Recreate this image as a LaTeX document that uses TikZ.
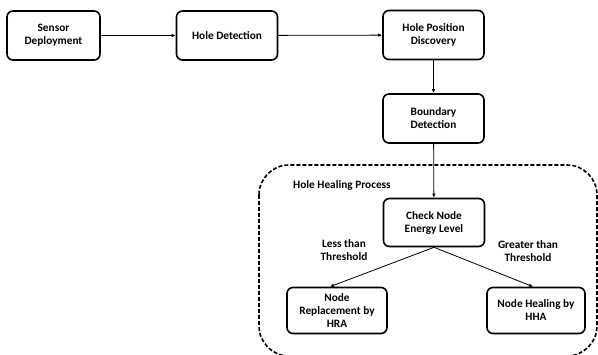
\documentclass[tikz,border=0pt]{standalone}
\usepackage{fontspec}
\setmainfont{Carlito}
\usetikzlibrary{arrows.meta}
\begin{document}
\begin{tikzpicture}[x=1pt,y=-1pt,
  font=\bfseries\fontsize{11.3}{13}\selectfont,
  box/.style={draw, line width=1.6pt, rounded corners=6pt, align=center,
    minimum width=101pt, minimum height=49pt, inner sep=2pt},
  flow/.style={line width=0.8pt, -{Latex[length=4pt,width=3.5pt]}},
  lbl/.style={align=center, inner sep=0pt}]
\useasboundingbox (0,0) rectangle (598,355);
% region holding the healing steps
\draw[line width=1.6pt, dash pattern=on 4pt off 2pt, rounded corners=30pt]
  (259,165) rectangle (597,356);
\node[lbl, anchor=west] (hhp) at (293,185) {Hole Healing Process};
% main chain
\node[box, minimum width=93pt] (sd) at (53.5,35.5) {Sensor\\Deployment};
\node[box] (hd) at (227,35.5) {Hole Detection};
\node[box] (hp) at (433.5,35) {Hole Position\\Discovery};
\node[box] (bd) at (433.5,118.5) {Boundary\\Detection};
\node[box, minimum height=48pt] (ce) at (434,222.5) {Check Node\\Energy Level};
\node[box, minimum width=100pt, minimum height=46pt] (nr) at (337,310.5) {Node\\Replacement by\\HRA};
\node[box, minimum width=98pt, minimum height=46pt] (nh) at (536,310.5) {Node Healing by\\HHA};
% connectors
\draw[flow] (sd) -- (hd);
\draw[flow] (hd) -- (hp);
\draw[flow] (hp) -- (bd);
\draw[flow] (bd) -- (ce);
\draw[flow] (ce.south) -- (nr.north -| 330,0);
\draw[flow] (ce.south) -- (nh.north -| 533,0);
% branch labels
\node[lbl] (lt) at (344,250.5) {Less than\\Threshold};
\node[lbl] (gt) at (528,251.5) {Greater than\\Threshold};
\end{tikzpicture}
\end{document}
